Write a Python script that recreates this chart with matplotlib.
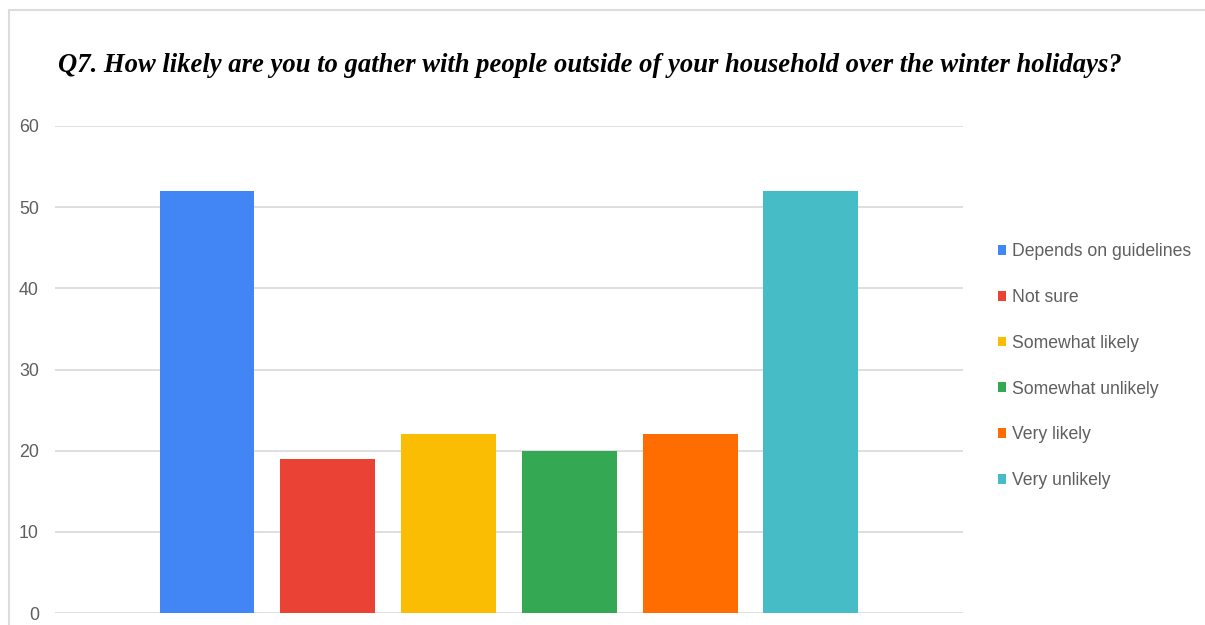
import matplotlib
matplotlib.use('Agg')
import matplotlib.pyplot as plt
import matplotlib.patheffects as pe
from matplotlib import font_manager
from matplotlib.patches import Patch, Rectangle

answers = ['Depends on guidelines', 'Not sure', 'Somewhat likely',
           'Somewhat unlikely', 'Very likely', 'Very unlikely']
counts = [52, 19, 22, 20, 22, 52]
colors = ['#4285F4', '#EA4335', '#FBBC04', '#34A853', '#FF6D01', '#46BDC6']
yticks = [0, 10, 20, 30, 40, 50, 60]

title = ('Q7. How likely are you to gather with people outside of your '
         'household over the winter holidays?')

plt.rcParams['font.family'] = ['Liberation Sans', 'DejaVu Sans']

fig = plt.figure(figsize=(12.05, 6.25), dpi=100)
ax = fig.add_axes([0.0456, 0.0192, 0.7536, 0.7792])

xs = list(range(len(answers)))
ax.bar(xs, counts, width=0.785, color=colors, zorder=3)

ax.set_xlim(-1.26, len(answers) - 1 + 1.26)
ax.set_ylim(0, 60)
ax.set_yticks(yticks)
ax.set_xticks([])
ax.tick_params(axis='y', length=0, pad=11.5, labelsize=12.8,
               labelcolor='#5f5f5f')
ax.grid(axis='y', color='#d9d9d9', linewidth=1.2, zorder=0)
for side in ax.spines.values():
    side.set_visible(False)

# bold italic serif title; thicken the strokes if no bold italic face exists
serif_bi = font_manager.FontProperties(family='Liberation Serif',
                                       weight='bold', style='italic')
bi_file = font_manager.findfont(serif_bi)
effects = [] if 'BoldItalic' in bi_file else [
    pe.Stroke(linewidth=0.9, foreground='black'), pe.Normal()]
fig.text(0.048, 0.885, title, fontproperties=serif_bi, fontsize=19.2,
         color='#000000', path_effects=effects)

handles = [Patch(facecolor=c, edgecolor='none') for c in colors]
leg = fig.legend(handles, answers, loc='upper left',
                 bbox_to_anchor=(0.8224, 0.622), frameon=False,
                 fontsize=12.7, handlelength=0.47, handleheight=0.47,
                 handletextpad=0.3, labelspacing=1.63, borderaxespad=0)
for t in leg.get_texts():
    t.set_color('#5f5f5f')

# light border around the chart area
fig.patches.append(Rectangle((9 / 1205, -0.1), 1.2, 0.1 + 615 / 625,
                             transform=fig.transFigure, fill=False,
                             edgecolor='#dcdcdc', linewidth=1.5))

fig.savefig('out.png', dpi=100)
